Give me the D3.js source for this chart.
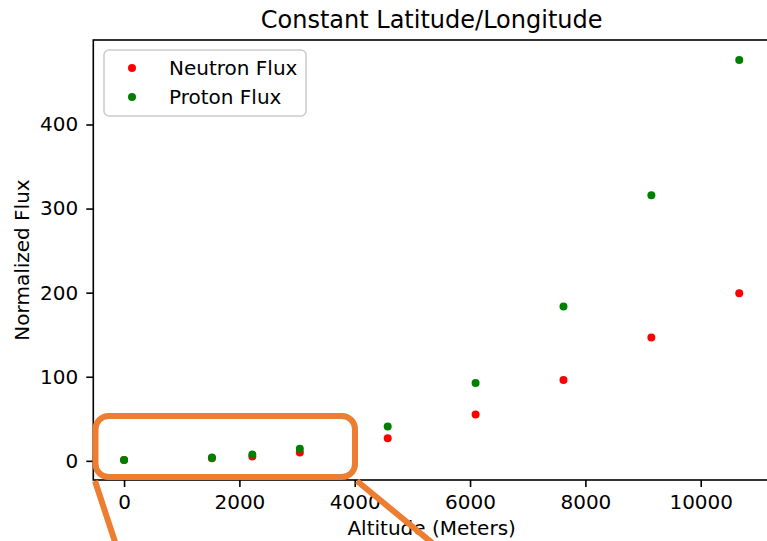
<!DOCTYPE html>
<html>
<head>
<meta charset="utf-8">
<script src="https://cdn.jsdelivr.net/npm/d3@7"></script>
<style>
    body { margin: 0; background: #fff; }
    svg { display: block; font-family: 'DejaVu Sans', sans-serif; }
</style>
</head>
<body>
<svg id="chart" width="767" height="541"></svg>
<script>
// data
const altitude = [0, 1524, 2225, 3048, 4572, 6096, 7620, 9144, 10668]
const neutronFlux = [1, 3, 5.1, 9.9, 27, 55.2, 96, 146.6, 199.4]
const protonFlux = [1, 4, 7.5, 14.3, 40.9, 92.6, 183.5, 316, 476.7]
const xTicks = [0, 2000, 4000, 6000, 8000, 10000]
const yTicks = [0, 100, 200, 300, 400]
const seriesNames = ['Neutron Flux', 'Proton Flux']
const seriesColors = ['#ff0000', '#008000']

const svg = d3.select('#chart')
const m = {left: 93.3, right: 770, top: 40, bottom: 480}

// matplotlib style 5% margins
function pad(ext){
    let r = ext[1] - ext[0]
    return [ext[0] - 0.05*r, ext[1] + 0.05*r]
}

const x = d3.scaleLinear()
    .domain(pad(d3.extent(altitude)))
    .range([m.left, m.right])

const y = d3.scaleLinear()
    .domain(pad(d3.extent(neutronFlux.concat(protonFlux))))
    .range([m.bottom, m.top])

// frame
svg.append('rect')
    .attr('x', m.left)
    .attr('y', m.top)
    .attr('width', m.right - m.left)
    .attr('height', m.bottom - m.top)
    .attr('fill', 'none')
    .attr('stroke', '#000')
    .attr('stroke-width', 1.6)

let xAxis = svg.append('g')
    .attr('transform', 'translate(0,' + m.bottom + ')')
    .call(d3.axisBottom(x).tickValues(xTicks).tickSize(7).tickPadding(8).tickFormat(d3.format('d')))
xAxis.select('.domain').remove()

let yAxis = svg.append('g')
    .attr('transform', 'translate(' + m.left + ',0)')
    .call(d3.axisLeft(y).tickValues(yTicks).tickSize(7).tickPadding(8).tickFormat(d3.format('d')))
yAxis.select('.domain').remove()

svg.selectAll('.tick line').attr('stroke-width', 1.6)
svg.selectAll('.tick text')
    .attr('font-size', 20)
    .attr('font-family', 'DejaVu Sans')
    .attr('fill', '#000')

// points
const series = [neutronFlux, protonFlux]
series.forEach((vals, i) => {
    svg.append('g')
        .selectAll('circle')
        .data(vals)
        .join('circle')
        .attr('cx', (d, j) => x(altitude[j]))
        .attr('cy', d => y(d))
        .attr('r', 4)
        .attr('fill', seriesColors[i])
})

// labels
svg.append('text')
    .attr('x', (m.left + m.right)/2)
    .attr('y', 28)
    .attr('text-anchor', 'middle')
    .attr('font-size', 24)
    .text('Constant Latitude/Longitude')

svg.append('text')
    .attr('x', (m.left + m.right)/2)
    .attr('y', 535)
    .attr('text-anchor', 'middle')
    .attr('font-size', 20)
    .text('Altitude (Meters)')

svg.append('text')
    .attr('transform', 'translate(29,' + (m.top + m.bottom)/2 + ') rotate(-90)')
    .attr('text-anchor', 'middle')
    .attr('font-size', 20)
    .text('Normalized Flux')

// legend
let legend = svg.append('g')
legend.append('rect')
    .attr('x', 104)
    .attr('y', 50)
    .attr('width', 202)
    .attr('height', 66)
    .attr('rx', 5)
    .attr('fill', '#fff')
    .attr('fill-opacity', 0.8)
    .attr('stroke', '#cccccc')
    .attr('stroke-width', 1.6)

seriesNames.forEach((name, i) => {
    legend.append('circle')
        .attr('cx', 132)
        .attr('cy', 68 + i*29)
        .attr('r', 4)
        .attr('fill', seriesColors[i])
    legend.append('text')
        .attr('x', 169)
        .attr('y', 75 + i*29)
        .attr('font-size', 20)
        .text(name)
})

// orange zoom callout drawn on top
const orange = '#ed7d31'
svg.append('rect')
    .attr('x', 95.5)
    .attr('y', 416)
    .attr('width', 259.5)
    .attr('height', 61)
    .attr('rx', 13)
    .attr('fill', 'none')
    .attr('stroke', orange)
    .attr('stroke-width', 6)

svg.append('path')
    .attr('d', 'M 95 481 L 118 551')
    .attr('stroke', orange)
    .attr('stroke-width', 6)
    .attr('fill', 'none')

svg.append('path')
    .attr('d', 'M 357 481 L 442 551')
    .attr('stroke', orange)
    .attr('stroke-width', 6)
    .attr('fill', 'none')
</script>
</body>
</html>
